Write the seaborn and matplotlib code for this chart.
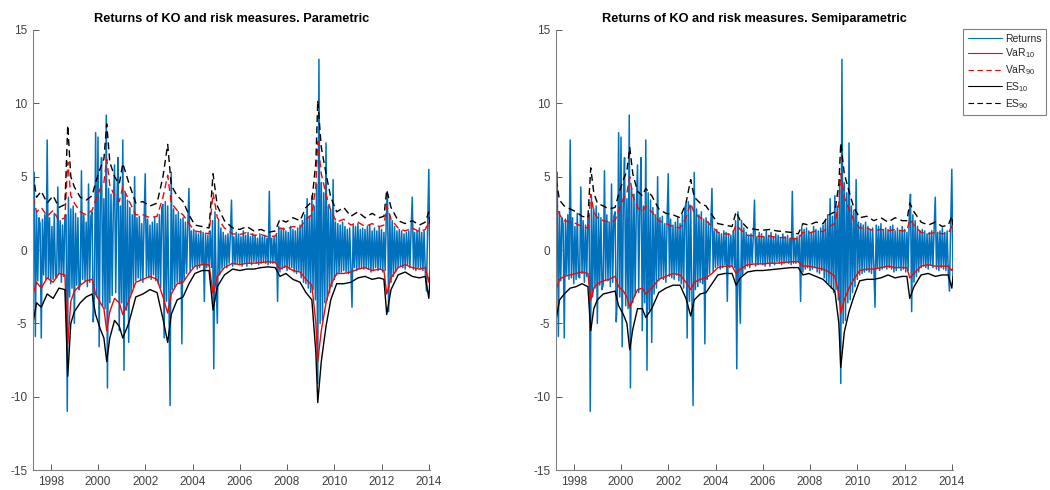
import numpy as np
import matplotlib
matplotlib.use("Agg")
import matplotlib.pyplot as plt
import seaborn as sns

sns.set_style("white")
plt.rcParams['font.family'] = ['Liberation Sans', 'DejaVu Sans']
plt.rcParams['mathtext.fontset'] = 'custom'
plt.rcParams['mathtext.rm'] = 'Liberation Sans'
plt.rcParams['mathtext.it'] = 'Liberation Sans'

# ---------------- data ----------------
# returns sampled every 0.05 years from 1997.25 to 2014.05
ret_start = 1997.25
ret_step = 0.05
returns = [
    -2.4, 5.3, -5.9, 2.6, -2.1, 2.2, 1.8, -6.0, 2.1, -1.7, 2.4, -2.0, 7.5, -1.9, 2.2, -2.3, 1.6, -2.0, 2.5, -1.8,
    -1.9, 4.3, -1.6, 2.0, -2.2, 1.7, -1.8, 2.3, 2.4, -11.0, 3.6, -3.2, 2.8, -2.6, 3.0, -5.0, 2.5, -2.4, 2.2, -2.7,
    -2.3, 5.4, -2.0, 2.4, -2.1, 1.9, -2.5, 4.5, -2.2, 2.3, 2.6, -4.9, -3.0, 8.0, -3.2, 7.7, -6.6, 3.4, 6.3, -3.8,
    3.5, -4.0, 9.2, -9.4, 4.2, -3.6, 3.8, -3.1, 3.0, 5.8, -2.9, 3.3, 6.3, -5.5, 3.0, -3.6, 7.5, -8.2, 3.9, -4.1,
    3.4, -6.3, 2.9, -3.0, 2.4, -2.6, 5.0, -2.1, 2.2, -1.9, 2.3, -2.0, 1.8, -2.2, 2.0, 5.2, -1.8, 2.1, -1.9, 1.7,
    -2.0, 1.9, -1.7, 2.2, -2.1, 1.8, -2.3, 2.4, -2.6, 2.9, 3.1, -6.0, 3.3, -3.5, 3.0, -2.9, -10.6, 5.3, -2.7, 2.8,
    -2.5, 2.4, -2.2, 2.6, -2.3, 2.1, -6.4, 2.2, -2.0, 1.9, -1.6, 1.7, 4.2, -1.5, 1.3, -1.2, 1.4, -1.1, 1.2, -1.3,
    1.1, -1.2, 1.3, -1.0, 1.2, -3.5, 1.1, -1.2, 1.0, -1.1, 1.3, -1.2, 2.0, -8.1, 2.6, -2.2, -5.0, 2.0, -1.7, 1.5,
    -1.3, 1.2, -1.1, 1.0, -1.2, 1.1, -0.9, 1.0, 3.4, -1.1, 0.9, -1.0, 1.2, -0.9, 1.1, -1.0, 0.9, -1.1, 1.3, -0.9,
    1.0, -1.1, 1.2, -0.9, 0.9, -1.0, 1.1, -0.8, 1.0, -0.9, 0.8, -1.0, 1.1, -0.9, 0.9, -0.8, 1.0, -0.9, 0.8, -1.0,
    4.0, -0.9, 0.8, -0.9, 0.9, -0.8, 1.0, -3.5, 1.6, -1.5, 1.4, -1.3, 1.5, -1.2, 1.3, -1.4, 1.2, -1.3, 1.6, -1.2,
    1.4, -1.5, 1.3, -1.6, 1.5, -1.4, 1.7, -1.9, 2.0, -2.2, 2.4, -2.3, 3.5, -2.6, 2.3, -2.9, 3.7, -2.7, 3.0, -3.4,
    4.5, -9.1, 13.0, -5.0, 4.6, -4.8, 3.9, -3.6, 7.3, -3.4, 3.0, -2.9, 2.7, -2.5, 4.8, -2.0, 1.9, -1.7, 1.8, -1.6,
    1.7, -1.5, 1.9, -1.4, 1.6, -1.5, 1.4, -1.6, 1.5, -1.3, -3.9, 1.7, -1.2, 1.6, -1.4, 1.8, -1.3, 1.4, -1.2, 1.5,
    -1.3, 1.4, -1.2, 1.6, -1.3, 1.7, -1.5, 1.3, -1.4, 1.5, -1.2, 1.3, -1.4, 1.6, -1.3, 1.4, -1.5, 1.2, -1.4, 2.2,
    3.8, -4.2, 2.4, -2.2, 2.0, -1.8, 1.6, -1.5, 1.3, -1.2, 1.4, -1.1, 1.3, -1.2, 1.1, -1.3, 1.2, -1.0, 1.3, -1.2,
    1.4, 3.6, -1.3, 1.2, -1.4, 1.3, -1.2, 1.5, -1.3, 1.2, -1.4, 1.3, -1.5, -2.8, 1.6, 5.5, -1.8,
]

# risk-measure knot dates (decimal years)
risk_years = [
    1997.25, 1997.4, 1997.6, 1997.85, 1998.1, 1998.35, 1998.6, 1998.72, 1998.85, 1999.0,
    1999.25, 1999.5, 1999.75, 1999.9, 2000.1, 2000.25, 2000.37, 2000.5, 2000.7, 2000.9,
    2001.05, 2001.3, 2001.6, 2001.9, 2002.2, 2002.5, 2002.75, 2002.95, 2003.1, 2003.35,
    2003.6, 2003.85, 2004.1, 2004.4, 2004.7, 2004.87, 2005.05, 2005.35, 2005.7, 2006.0,
    2006.3, 2006.6, 2006.9, 2007.2, 2007.5, 2007.7, 2007.95, 2008.25, 2008.55, 2008.8,
    2009.05, 2009.22, 2009.3, 2009.45, 2009.65, 2009.85, 2010.1, 2010.4, 2010.7, 2011.0,
    2011.3, 2011.6, 2011.9, 2012.1, 2012.22, 2012.4, 2012.7, 2013.0, 2013.3, 2013.6,
    2013.85, 2014.0, 2014.05,
]

# Parametric
p_es90 = [5.2, 3.6, 4.0, 3.2, 3.7, 2.9, 3.1, 8.5, 5.0, 4.3,
          3.6, 3.4, 3.7, 4.6, 5.6, 6.2, 8.6, 6.0, 5.0, 4.5,
          5.9, 4.6, 3.2, 3.3, 3.0, 3.2, 5.0, 7.2, 4.4, 3.7,
          3.3, 2.4, 1.7, 1.6, 1.5, 5.2, 3.0, 2.0, 1.5, 1.4,
          1.6, 1.3, 1.4, 1.2, 1.3, 2.1, 1.9, 2.2, 2.0, 2.9,
          3.3, 6.0, 10.2, 7.0, 5.2, 3.6, 2.6, 2.9, 2.3, 2.6,
          2.2, 2.5, 2.2, 2.3, 4.1, 2.9, 2.0, 1.8, 2.0, 1.7,
          1.9, 2.6, 1.8]
p_var90 = [3.6, 2.6, 2.9, 2.3, 2.7, 2.0, 2.2, 6.0, 3.7, 3.2,
           2.6, 2.4, 2.7, 3.4, 4.2, 4.6, 6.2, 4.4, 3.7, 3.3,
           4.3, 3.4, 2.4, 2.4, 2.2, 2.3, 3.6, 5.1, 3.2, 2.7,
           2.4, 1.8, 1.3, 1.2, 1.1, 3.9, 2.2, 1.5, 1.1, 1.05,
           1.2, 1.0, 1.05, 0.9, 0.95, 1.5, 1.4, 1.6, 1.5, 2.1,
           2.4, 4.4, 7.4, 5.2, 3.8, 2.7, 1.9, 2.1, 1.7, 1.9,
           1.6, 1.8, 1.6, 1.7, 3.0, 2.1, 1.5, 1.3, 1.5, 1.25,
           1.4, 1.9, 1.3]
p_var10 = [-3.0, -2.2, -2.6, -1.9, -2.2, -1.6, -1.7, -6.4, -3.5, -2.8,
           -2.4, -2.1, -2.0, -3.0, -3.6, -4.0, -5.5, -4.2, -3.3, -3.6,
           -4.4, -3.5, -2.2, -2.0, -1.8, -2.0, -3.2, -4.3, -3.0, -2.3,
           -2.2, -1.6, -1.1, -1.0, -1.0, -3.0, -1.8, -1.2, -0.9, -1.0,
           -0.9, -0.9, -0.85, -0.8, -0.85, -1.3, -1.1, -1.4, -1.5, -2.0,
           -2.4, -5.0, -7.6, -5.5, -3.6, -2.4, -1.6, -1.6, -1.5, -1.3,
           -1.2, -1.4, -1.3, -1.4, -3.0, -1.9, -1.2, -1.0, -1.2, -1.3,
           -1.2, -2.2, -1.3]
p_es10 = [-5.0, -3.6, -3.9, -3.0, -3.3, -2.6, -2.7, -8.6, -5.0, -4.2,
          -3.6, -3.2, -3.0, -4.4, -5.4, -6.0, -7.6, -6.0, -4.8, -5.2,
          -6.0, -5.0, -3.2, -3.0, -2.7, -2.9, -4.7, -6.3, -4.4, -3.4,
          -3.2, -2.3, -1.6, -1.4, -1.4, -4.1, -2.5, -1.7, -1.3, -1.4,
          -1.3, -1.3, -1.2, -1.15, -1.2, -1.8, -1.6, -2.0, -2.2, -2.9,
          -3.4, -7.0, -10.4, -7.6, -5.2, -3.4, -2.3, -2.3, -2.2, -1.9,
          -1.8, -2.0, -1.9, -2.0, -4.4, -2.7, -1.7, -1.5, -1.8, -1.9,
          -1.8, -3.3, -1.9]

# Semiparametric
s_es90 = [4.8, 3.4, 3.0, 2.8, 2.6, 2.3, 2.2, 5.6, 3.9, 3.2,
          3.0, 2.8, 2.9, 3.8, 4.8, 5.4, 7.0, 5.2, 4.0, 3.7,
          4.2, 3.7, 2.8, 2.5, 2.4, 2.2, 3.2, 4.8, 3.6, 3.2,
          3.0, 2.4, 1.8, 1.7, 1.6, 2.6, 2.0, 1.5, 1.4, 1.35,
          1.4, 1.3, 1.25, 1.2, 1.1, 1.8, 1.7, 1.9, 1.8, 2.4,
          2.6, 4.5, 7.3, 5.2, 4.0, 2.9, 2.2, 2.3, 2.0, 2.2,
          1.9, 2.2, 2.0, 2.0, 3.2, 2.6, 1.9, 1.7, 1.9, 1.6,
          1.7, 2.3, 1.7]
s_var90 = [3.4, 2.4, 2.0, 1.9, 1.8, 1.6, 1.5, 3.8, 2.6, 2.2,
           2.0, 1.9, 2.0, 2.7, 3.5, 3.9, 5.0, 3.7, 2.9, 2.6,
           3.0, 2.6, 2.0, 1.8, 1.6, 1.5, 2.2, 3.2, 2.5, 2.2,
           2.0, 1.6, 1.2, 1.1, 1.05, 1.7, 1.4, 1.0, 0.95, 0.9,
           0.95, 0.85, 0.85, 0.8, 0.75, 1.2, 1.15, 1.3, 1.25, 1.6,
           1.8, 3.2, 5.2, 3.6, 2.8, 2.0, 1.5, 1.5, 1.3, 1.4,
           1.3, 1.4, 1.3, 1.3, 2.1, 1.7, 1.2, 1.1, 1.2, 1.1,
           1.15, 1.6, 1.2]
s_var10 = [-2.7, -2.0, -1.8, -1.7, -1.6, -1.5, -1.6, -3.4, -2.6, -2.3,
           -2.1, -2.0, -1.8, -2.5, -2.8, -3.2, -3.9, -3.4, -2.7, -2.6,
           -3.0, -2.6, -2.0, -1.8, -1.6, -1.7, -2.2, -2.7, -2.2, -2.0,
           -1.9, -1.6, -1.2, -1.1, -1.1, -1.6, -1.3, -1.0, -0.95, -0.95,
           -0.9, -0.9, -0.85, -0.8, -0.8, -1.1, -1.1, -1.2, -1.3, -1.5,
           -1.8, -3.0, -4.3, -3.4, -2.6, -2.0, -1.4, -1.3, -1.3, -1.2,
           -1.1, -1.2, -1.2, -1.2, -1.9, -1.6, -1.1, -1.0, -1.1, -1.1,
           -1.1, -1.4, -1.2]
s_es10 = [-4.8, -3.4, -3.0, -2.6, -2.5, -2.3, -2.5, -5.5, -4.0, -3.4,
          -3.0, -2.9, -2.8, -3.8, -4.4, -5.0, -6.8, -5.4, -4.0, -4.0,
          -4.6, -4.0, -2.9, -2.6, -2.4, -2.4, -3.3, -4.5, -3.4, -3.0,
          -2.9, -2.3, -1.7, -1.6, -1.6, -2.4, -1.9, -1.5, -1.4, -1.4,
          -1.35, -1.3, -1.25, -1.2, -1.2, -1.7, -1.6, -1.8, -2.0, -2.4,
          -2.8, -5.0, -8.0, -5.6, -4.2, -3.2, -2.1, -2.0, -2.0, -1.9,
          -1.7, -1.9, -1.8, -1.8, -3.3, -2.5, -1.7, -1.6, -1.8, -1.7,
          -1.7, -2.6, -1.8]

titles = ["Returns of KO and risk measures. Parametric",
          "Returns of KO and risk measures. Semiparametric"]
legend_labels = ["Returns", "VaR$_{10}$", "VaR$_{90}$", "ES$_{10}$", "ES$_{90}$"]
x_ticks = [1998, 2000, 2002, 2004, 2006, 2008, 2010, 2012, 2014]
y_ticks = [-15, -10, -5, 0, 5, 10, 15]

# ---------------- plot ----------------
ret_years = ret_start + ret_step * np.arange(len(returns))

fig = plt.figure(figsize=(10.5, 4.9), dpi=100)
ax_pos = [[33 / 1050, 20 / 490, 397 / 1050, 440 / 490],
          [556 / 1050, 20 / 490, 397 / 1050, 440 / 490]]
panels = [(p_var10, p_var90, p_es10, p_es90), (s_var10, s_var90, s_es10, s_es90)]

BLUE = "#0072BD"
dash = (0, (5.0, 3.0))
axes = []
for k in range(2):
    ax = fig.add_axes(ax_pos[k])
    axes.append(ax)
    v10, v90, e10, e90 = panels[k]
    sns.lineplot(x=ret_years, y=returns, ax=ax, color=BLUE, linewidth=1.1,
                 label=legend_labels[0], sort=False, estimator=None)
    sns.lineplot(x=risk_years, y=v10, ax=ax, color="red", linewidth=1.0,
                 label=legend_labels[1], sort=False, estimator=None)
    sns.lineplot(x=risk_years, y=v90, ax=ax, color="red", linewidth=1.0,
                 linestyle=dash, label=legend_labels[2], sort=False, estimator=None)
    sns.lineplot(x=risk_years, y=e10, ax=ax, color="black", linewidth=1.0,
                 label=legend_labels[3], sort=False, estimator=None)
    sns.lineplot(x=risk_years, y=e90, ax=ax, color="black", linewidth=1.0,
                 linestyle=dash, label=legend_labels[4], sort=False, estimator=None)

    ax.set_xlim(1997.25, 2014.05)
    ax.set_ylim(-15, 15)
    ax.set_xticks(x_ticks)
    ax.set_xticklabels([str(t) for t in x_ticks])
    ax.set_yticks(y_ticks)
    ax.set_yticklabels([str(t) for t in y_ticks])
    ax.tick_params(direction="in", length=4, width=0.6, colors="#404040",
                   labelsize=8.5, bottom=True, left=True, pad=4)
    for side in ("top", "right"):
        ax.spines[side].set_visible(False)
    for side in ("left", "bottom"):
        ax.spines[side].set_color("#808080")
        ax.spines[side].set_linewidth(0.8)
    ax.set_title(titles[k], fontsize=9.2, fontweight="bold", pad=6, color="black")
    ax.set_xlabel("")
    ax.set_ylabel("")
    if ax.get_legend() is not None:
        ax.get_legend().remove()

leg = axes[1].legend(loc="upper left", bbox_to_anchor=(963 / 1050, 1 - 29 / 490),
                     bbox_transform=fig.transFigure, borderaxespad=0,
                     fontsize=7.5, frameon=True, fancybox=False, framealpha=1,
                     edgecolor="#808080", handlelength=3.3, handletextpad=0.3,
                     labelspacing=0.28, borderpad=0.45)
leg.get_frame().set_linewidth(0.8)
for line in leg.get_lines():
    line.set_linewidth(0.8)

fig.savefig("out.png", dpi=100)
